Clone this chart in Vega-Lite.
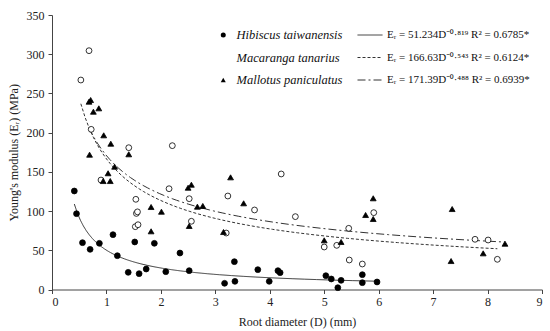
{
  "$schema": "https://vega.github.io/schema/vega-lite/v6.json",
  "width": 490,
  "height": 274.5,
  "autosize": {"type": "none"},
  "padding": {"left": 52, "top": 15, "right": 8, "bottom": 41.5},
  "background": "white",
  "config": {
    "view": {"stroke": null},
    "font": "Liberation Serif",
    "axis": {
      "labelFont": "Liberation Serif", "labelFontSize": 12, "labelColor": "#222",
      "titleFont": "Liberation Serif", "titleFontSize": 12, "titleFontWeight": "normal", "titleColor": "#222",
      "domainColor": "#444", "tickColor": "#444", "tickSize": 4, "grid": false
    },
    "legend": {"padding": 0, "offset": 0}
  },
  "data": {"values": [
    {"species": "Hibiscus taiwanensis", "D": 0.41, "E": 125.6},
    {"species": "Hibiscus taiwanensis", "D": 0.45, "E": 96.7},
    {"species": "Hibiscus taiwanensis", "D": 0.56, "E": 59.7},
    {"species": "Hibiscus taiwanensis", "D": 0.70, "E": 51.2},
    {"species": "Hibiscus taiwanensis", "D": 0.87, "E": 58.9},
    {"species": "Hibiscus taiwanensis", "D": 1.12, "E": 69.9},
    {"species": "Hibiscus taiwanensis", "D": 1.20, "E": 43.1},
    {"species": "Hibiscus taiwanensis", "D": 1.40, "E": 21.9},
    {"species": "Hibiscus taiwanensis", "D": 1.52, "E": 60.6},
    {"species": "Hibiscus taiwanensis", "D": 1.60, "E": 20.2},
    {"species": "Hibiscus taiwanensis", "D": 1.73, "E": 26.1},
    {"species": "Hibiscus taiwanensis", "D": 1.88, "E": 58.9},
    {"species": "Hibiscus taiwanensis", "D": 2.09, "E": 22.7},
    {"species": "Hibiscus taiwanensis", "D": 2.35, "E": 46.5},
    {"species": "Hibiscus taiwanensis", "D": 2.52, "E": 24.0},
    {"species": "Hibiscus taiwanensis", "D": 3.17, "E": 7.9},
    {"species": "Hibiscus taiwanensis", "D": 3.35, "E": 35.5},
    {"species": "Hibiscus taiwanensis", "D": 3.36, "E": 10.4},
    {"species": "Hibiscus taiwanensis", "D": 3.78, "E": 25.3},
    {"species": "Hibiscus taiwanensis", "D": 3.99, "E": 10.4},
    {"species": "Hibiscus taiwanensis", "D": 4.15, "E": 24.0},
    {"species": "Hibiscus taiwanensis", "D": 4.19, "E": 21.5},
    {"species": "Hibiscus taiwanensis", "D": 5.03, "E": 17.6},
    {"species": "Hibiscus taiwanensis", "D": 5.13, "E": 13.4},
    {"species": "Hibiscus taiwanensis", "D": 5.25, "E": 2.3},
    {"species": "Hibiscus taiwanensis", "D": 5.31, "E": 11.7},
    {"species": "Hibiscus taiwanensis", "D": 5.70, "E": 18.9},
    {"species": "Hibiscus taiwanensis", "D": 5.70, "E": 8.7},
    {"species": "Hibiscus taiwanensis", "D": 5.97, "E": 9.6},
    {"species": "Macaranga tanarius", "D": 0.53, "E": 267.1},
    {"species": "Macaranga tanarius", "D": 0.68, "E": 304.5},
    {"species": "Macaranga tanarius", "D": 0.72, "E": 204.2},
    {"species": "Macaranga tanarius", "D": 0.90, "E": 139.6},
    {"species": "Macaranga tanarius", "D": 1.41, "E": 180.8},
    {"species": "Macaranga tanarius", "D": 1.54, "E": 115.0},
    {"species": "Macaranga tanarius", "D": 1.55, "E": 97.0},
    {"species": "Macaranga tanarius", "D": 1.57, "E": 99.0},
    {"species": "Macaranga tanarius", "D": 1.53, "E": 80.1},
    {"species": "Macaranga tanarius", "D": 1.58, "E": 82.6},
    {"species": "Macaranga tanarius", "D": 2.15, "E": 128.5},
    {"species": "Macaranga tanarius", "D": 2.21, "E": 183.4},
    {"species": "Macaranga tanarius", "D": 2.52, "E": 115.8},
    {"species": "Macaranga tanarius", "D": 2.56, "E": 87.0},
    {"species": "Macaranga tanarius", "D": 3.20, "E": 72.0},
    {"species": "Macaranga tanarius", "D": 3.23, "E": 119.2},
    {"species": "Macaranga tanarius", "D": 3.72, "E": 101.4},
    {"species": "Macaranga tanarius", "D": 4.21, "E": 147.3},
    {"species": "Macaranga tanarius", "D": 4.47, "E": 92.9},
    {"species": "Macaranga tanarius", "D": 5.00, "E": 54.2},
    {"species": "Macaranga tanarius", "D": 5.23, "E": 56.3},
    {"species": "Macaranga tanarius", "D": 5.45, "E": 78.0},
    {"species": "Macaranga tanarius", "D": 5.46, "E": 37.6},
    {"species": "Macaranga tanarius", "D": 5.70, "E": 32.5},
    {"species": "Macaranga tanarius", "D": 5.91, "E": 98.0},
    {"species": "Macaranga tanarius", "D": 7.77, "E": 64.0},
    {"species": "Macaranga tanarius", "D": 8.01, "E": 63.1},
    {"species": "Macaranga tanarius", "D": 8.18, "E": 38.5},
    {"species": "Mallotus paniculatus", "D": 0.68, "E": 239.5},
    {"species": "Mallotus paniculatus", "D": 0.71, "E": 241.6},
    {"species": "Mallotus paniculatus", "D": 0.76, "E": 226.7},
    {"species": "Mallotus paniculatus", "D": 0.86, "E": 231.0},
    {"species": "Mallotus paniculatus", "D": 0.95, "E": 196.6},
    {"species": "Mallotus paniculatus", "D": 1.08, "E": 185.9},
    {"species": "Mallotus paniculatus", "D": 0.69, "E": 171.9},
    {"species": "Mallotus paniculatus", "D": 1.15, "E": 156.6},
    {"species": "Mallotus paniculatus", "D": 1.03, "E": 148.2},
    {"species": "Mallotus paniculatus", "D": 0.94, "E": 138.3},
    {"species": "Mallotus paniculatus", "D": 1.07, "E": 138.3},
    {"species": "Mallotus paniculatus", "D": 1.41, "E": 172.4},
    {"species": "Mallotus paniculatus", "D": 1.82, "E": 105.2},
    {"species": "Mallotus paniculatus", "D": 2.01, "E": 99.2},
    {"species": "Mallotus paniculatus", "D": 1.82, "E": 74.2},
    {"species": "Mallotus paniculatus", "D": 2.50, "E": 129.8},
    {"species": "Mallotus paniculatus", "D": 2.56, "E": 133.6},
    {"species": "Mallotus paniculatus", "D": 2.67, "E": 105.6},
    {"species": "Mallotus paniculatus", "D": 2.77, "E": 106.5},
    {"species": "Mallotus paniculatus", "D": 2.52, "E": 81.0},
    {"species": "Mallotus paniculatus", "D": 3.28, "E": 143.0},
    {"species": "Mallotus paniculatus", "D": 3.52, "E": 109.9},
    {"species": "Mallotus paniculatus", "D": 3.15, "E": 73.3},
    {"species": "Mallotus paniculatus", "D": 5.00, "E": 62.7},
    {"species": "Mallotus paniculatus", "D": 5.31, "E": 60.6},
    {"species": "Mallotus paniculatus", "D": 5.76, "E": 95.0},
    {"species": "Mallotus paniculatus", "D": 5.90, "E": 116.3},
    {"species": "Mallotus paniculatus", "D": 5.90, "E": 89.9},
    {"species": "Mallotus paniculatus", "D": 7.35, "E": 102.6},
    {"species": "Mallotus paniculatus", "D": 7.33, "E": 36.3},
    {"species": "Mallotus paniculatus", "D": 7.92, "E": 46.1},
    {"species": "Mallotus paniculatus", "D": 8.32, "E": 58.4}
  ]},
  "encoding": {
    "x": {"field": "D", "type": "quantitative", "scale": {"domain": [0, 9], "nice": false},
      "axis": {"values": [0,1,2,3,4,5,6,7,8,9], "title": "Root diameter  (D) (mm)", "labelPadding": 3, "titlePadding": 9}},
    "y": {"field": "E", "type": "quantitative", "scale": {"domain": [0, 350], "nice": false},
      "axis": {"values": [0,50,100,150,200,250,300,350], "title": "Young's modulus  (Eᵣ) (MPa)", "labelPadding": 4, "titlePadding": 6}}
  },
  "layer": [
    {
      "transform": [{"regression": "E", "on": "D", "groupby": ["species"], "method": "pow"}],
      "mark": {"type": "line", "stroke": "#333", "strokeWidth": 1},
      "encoding": {
        "strokeDash": {"field": "species", "type": "nominal",
          "scale": {"range": [[1, 0], [3, 2], [8, 3, 2, 3]]},
          "legend": {"orient": "none", "legendX": 305, "legendY": 11, "title": null,
            "symbolType": "stroke", "symbolSize": 625, "symbolStrokeColor": "#333", "symbolStrokeWidth": 1,
            "clipHeight": 18, "rowPadding": 4.5, "labelOffset": 4,
            "labelFont": "Liberation Serif, Noto Sans", "labelFontSize": 11, "labelColor": "#111",
            "labelLimit": 300,
            "labelExpr": "datum.label == 'Hibiscus taiwanensis' ? 'Eᵣ = 51.234D⁻⁰·⁸¹⁹ R² = 0.6785*' : datum.label == 'Macaranga tanarius' ? 'Eᵣ = 166.63D⁻⁰·⁵⁴³ R² = 0.6124*' : 'Eᵣ = 171.39D⁻⁰·⁴⁸⁸ R² = 0.6939*'"}}
      }
    },
    {
      "mark": {"type": "point", "filled": true, "stroke": "#000", "strokeWidth": 0.8, "opacity": 1, "size": 34},
      "encoding": {
        "shape": {"field": "species", "type": "nominal",
          "scale": {"range": ["circle", "circle", "triangle-up"]},
          "legend": {"orient": "none", "legendX": 165, "legendY": 11, "title": null,
            "symbolSize": 25, "symbolStrokeColor": "#000", "symbolStrokeWidth": 0.8,
            "clipHeight": 18, "rowPadding": 4.5, "labelOffset": 7,
            "labelFont": "Liberation Serif", "labelFontSize": 12.5, "labelFontStyle": "italic", "labelColor": "#111"}},
        "fill": {"field": "species", "type": "nominal",
          "scale": {"range": ["#000", "#fff", "#000"]},
          "legend": {"orient": "none", "legendX": 165, "legendY": 11, "title": null,
            "symbolSize": 25, "symbolStrokeColor": "#000", "symbolStrokeWidth": 0.8,
            "clipHeight": 18, "rowPadding": 4.5, "labelOffset": 7,
            "labelFont": "Liberation Serif", "labelFontSize": 12.5, "labelFontStyle": "italic", "labelColor": "#111"}}
      }
    }
  ]
}
